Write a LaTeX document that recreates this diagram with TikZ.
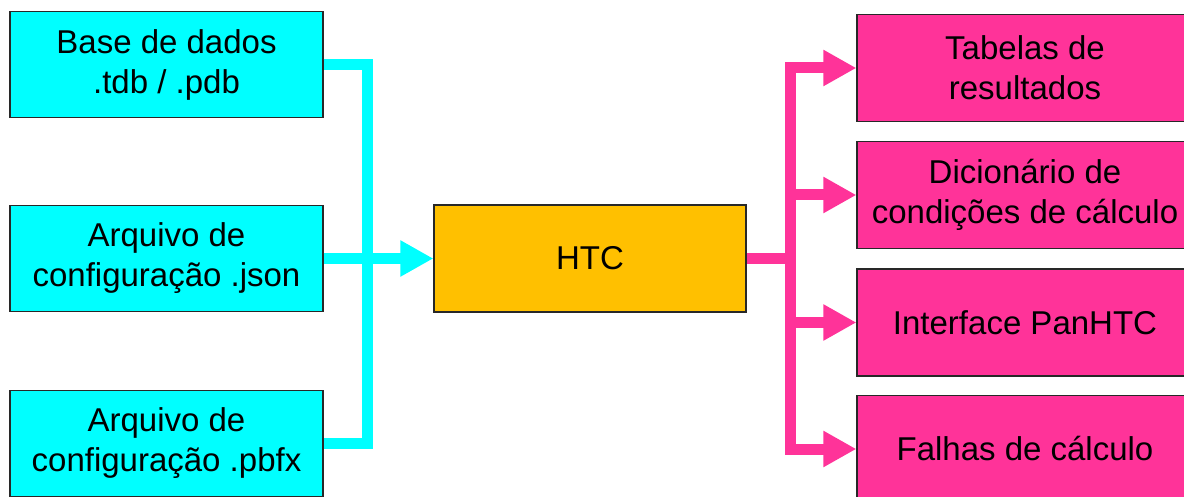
\documentclass[tikz,border=0pt]{standalone}
\usepackage{fontspec}
\setmainfont{Liberation Sans}
\usetikzlibrary{arrows.meta}
\definecolor{incyan}{RGB}{0,255,255}
\definecolor{htcorange}{RGB}{255,192,0}
\definecolor{outpink}{RGB}{255,51,153}
\definecolor{edgegray}{RGB}{40,40,40}

\begin{document}
\begin{tikzpicture}[x=1pt, y=-1pt,
    box/.style={draw=edgegray, line width=1.2pt, align=center, inner sep=0pt,
      font=\fontsize{33}{40}\selectfont},
    inbox/.style={box, fill=incyan, minimum width=313pt, minimum height=106pt},
    core/.style={box, fill=htcorange, minimum width=312pt, minimum height=107pt},
    outbox/.style={box, fill=outpink, minimum width=336pt, minimum height=107pt},
    cyanline/.style={draw=incyan, line width=11pt},
    pinkline/.style={draw=outpink, line width=11pt},
    bigtip/.style={-{Triangle[length=33pt, width=34pt]}}]
    \useasboundingbox (0,0) rectangle (1184,497);

    % inputs
    \node[inbox] (db)   at (166.5,64.5)  {Base de dados\\.tdb / .pdb};
    \node[inbox] (json) at (166.5,258.5) {Arquivo de\\configuração .json};
    \node[inbox] (pbfx) at (166.5,443.5) {Arquivo de\\configuração .pbfx};

    \node[core] (htc) at (590,258.5) {HTC};

    % outputs
    \node[outbox] (tab)  at (1025,68)    {Tabelas de\\resultados};
    \node[outbox] (dic)  at (1025,195)   {Dicionário de\\condições de cálculo};
    \node[outbox] (gui)  at (1025,322.5) {Interface PanHTC};
    \node[outbox] (fail) at (1025,449)   {Falhas de cálculo};

    \coordinate (cbus) at (367,258.5);
    \coordinate (pbus) at (790,258.5);

    \draw[cyanline] (db.east) -| (cbus) |- (pbfx.east);
    \draw[cyanline, bigtip] (json) -- (htc);

    \draw[pinkline] (htc) -- (pbus);
    \foreach \out in {tab, dic, gui, fail}
      \draw[pinkline, bigtip] (pbus) |- (\out.west);
  \end{tikzpicture}
\end{document}
